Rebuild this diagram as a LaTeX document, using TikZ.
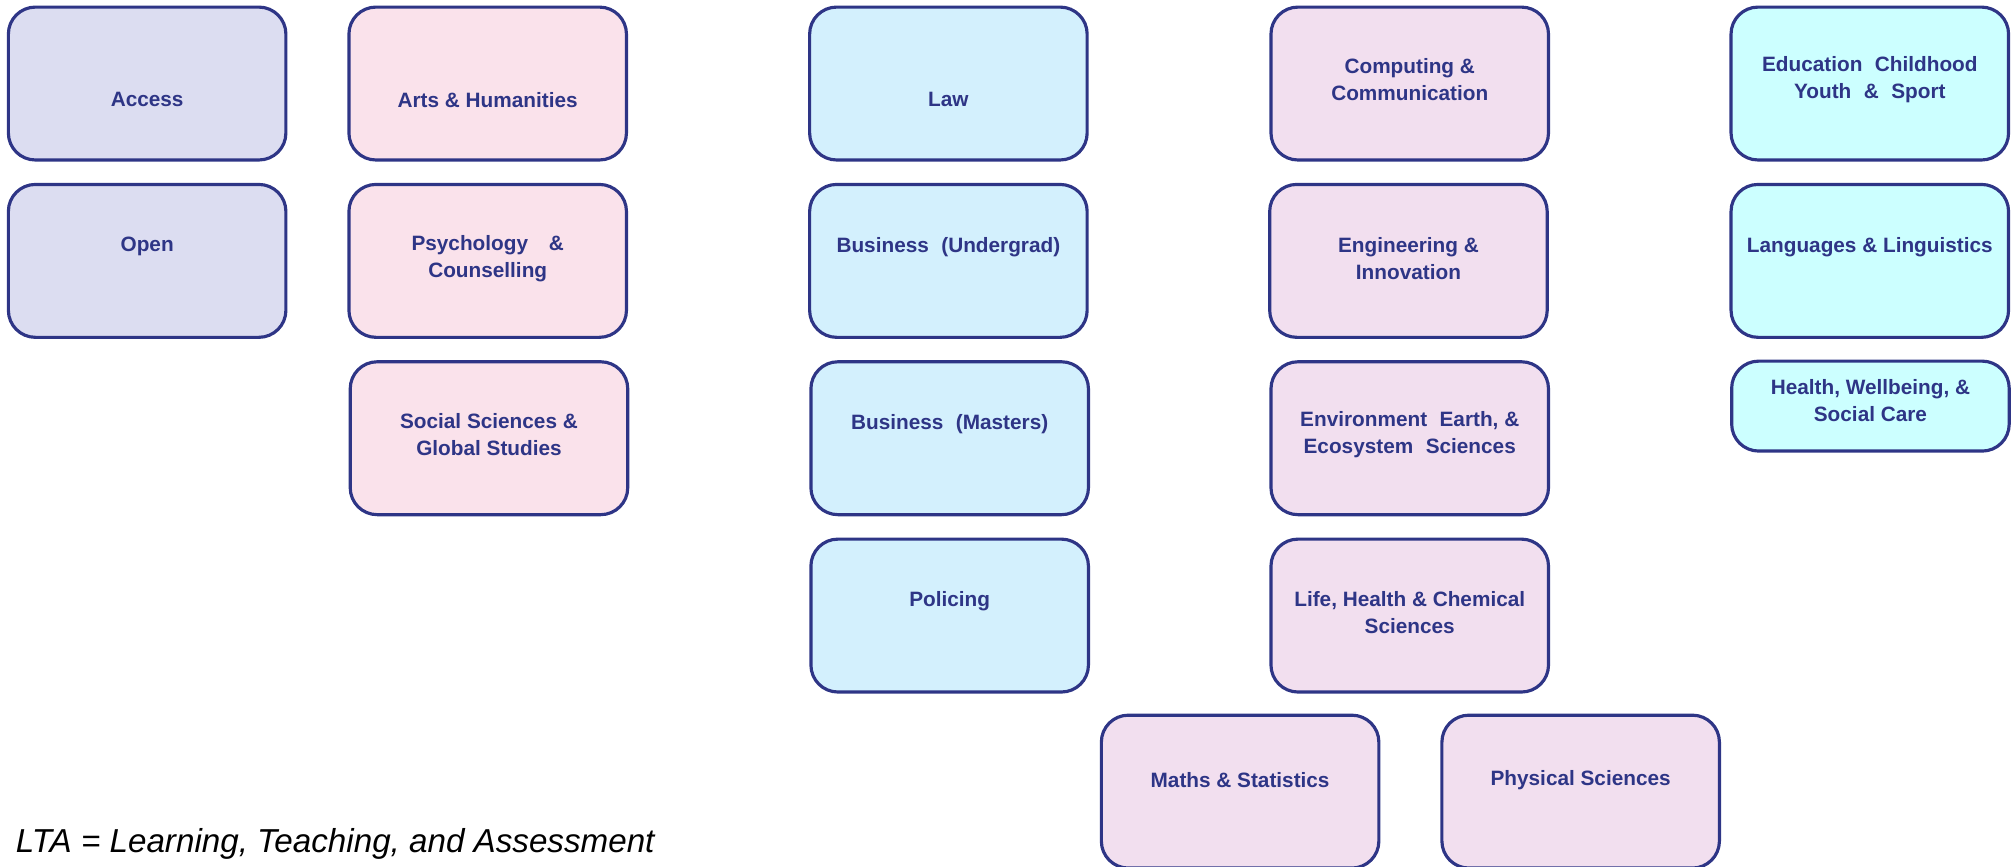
\documentclass[tikz,border=0pt]{standalone}
\usepackage{fontspec}
\setmainfont{Liberation Sans}
\definecolor{edge}{RGB}{46,53,134}
\definecolor{accessfill}{RGB}{220,221,241}
\definecolor{artsfill}{RGB}{250,226,235}
\definecolor{lawfill}{RGB}{211,240,253}
\definecolor{scifill}{RGB}{242,223,239}
\definecolor{edufill}{RGB}{204,255,255}

\begin{document}
\begin{tikzpicture}[x=0.02cm, y=-0.02cm]
	\tikzstyle{every node} = [inner sep=0pt]
	\tikzstyle{unit} = [draw=edge, line width=1.4pt, rounded corners=0.42cm, minimum width=4.32cm, minimum height=2.38cm]
	\tikzstyle{txt} = [text=edge, font=\fontsize{9.2}{12}\selectfont\bfseries, align=center]
	\useasboundingbox (0,0) rectangle (1568,674);
	\clip (0,0) rectangle (1568,674);
	% first column
	\node[unit, fill=accessfill] (access) at (114.5,65) {}; \node[txt] (access-t) at (114.5,77.5) {Access};
	\node[unit, fill=accessfill] (open) at (114.5,203) {}; \node[txt] (open-t) at (114.5,192) {Open};
	% second column
	\node[unit, fill=artsfill] (arts) at (379.5,65) {}; \node[txt] (arts-t) at (379.5,77.5) {Arts \& Humanities};
	\node[unit, fill=artsfill] (psych) at (379.5,203) {}; \node[txt] (psych-t) at (379.5,201.5) {Psychology\hspace{1em}\&\\Counselling};
	\node[unit, fill=artsfill] (social) at (380.5,341) {}; \node[txt] (social-t) at (380.5,338.5) {Social Sciences \&\\Global Studies};
	% third column
	\node[unit, fill=lawfill] (law) at (738,65) {}; \node[txt] (law-t) at (738,77.5) {Law};
	\node[unit, fill=lawfill] (busug) at (738,203) {}; \node[txt] (busug-t) at (738,192) {Business\hspace{0.6em}(Undergrad)};
	\node[unit, fill=lawfill] (busm) at (739,341) {}; \node[txt] (busm-t) at (739,330) {Business\hspace{0.6em}(Masters)};
	\node[unit, fill=lawfill] (police) at (739,479) {}; \node[txt] (police-t) at (739,468) {Policing};
	% fourth column
	\node[unit, fill=scifill] (comp) at (1097,65) {}; \node[txt] (comp-t) at (1097,62) {Computing \&\\Communication};
	\node[unit, fill=scifill] (eng) at (1096,203) {}; \node[txt] (eng-t) at (1096,201) {Engineering \&\\Innovation};
	\node[unit, fill=scifill] (env) at (1097,341) {}; \node[txt] (env-t) at (1097,338.5) {Environment\hspace{0.6em}Earth, \&\\Ecosystem\hspace{0.6em}Sciences};
	\node[unit, fill=scifill] (life) at (1097,479) {}; \node[txt] (life-t) at (1097,476.5) {Life, Health \& Chemical\\Sciences};
	\node[unit, fill=scifill] (maths) at (965,616) {}; \node[txt] (maths-t) at (965,607) {Maths \& Statistics};
	\node[unit, fill=scifill] (phys) at (1230,616) {}; \node[txt] (phys-t) at (1230,607) {Physical Sciences};
	% fifth column
	\node[unit, fill=edufill] (edu) at (1455,65) {}; \node[txt] (edu-t) at (1455,62) {Education\hspace{0.6em}Childhood\\Youth\hspace{0.6em}\&\hspace{0.6em}Sport};
	\node[unit, fill=edufill] (lang) at (1455,203) {}; \node[txt] (lang-t) at (1455,192) {Languages \& Linguistics};
	\node[unit, fill=edufill, minimum height=1.4cm] (health) at (1455.5,316) {}; \node[txt] (health-t) at (1455.5,311.5) {Health, Wellbeing, \&\\Social Care};
	% key
	\node[anchor=base west, font=\fontsize{14.7}{17}\selectfont\itshape] (lta) at (12,663) {LTA = Learning, Teaching, and Assessment};
\end{tikzpicture}
\end{document}
